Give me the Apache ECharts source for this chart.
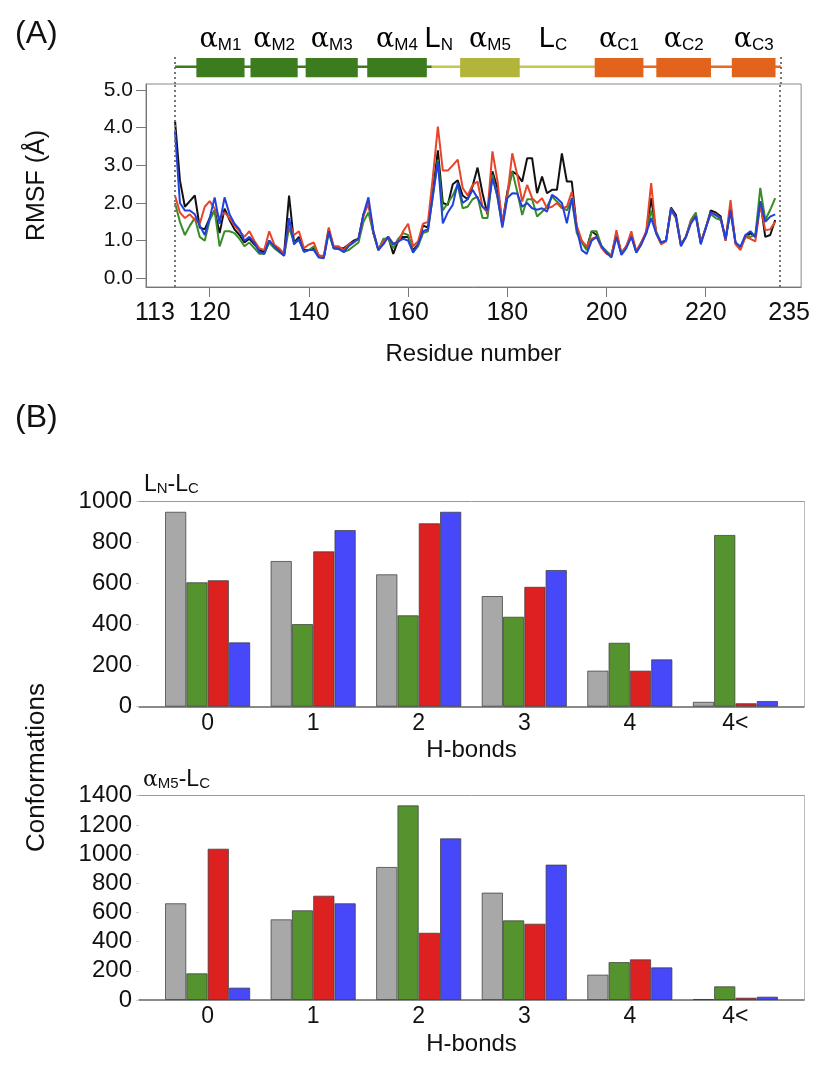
<!DOCTYPE html>
<html>
<head>
<meta charset="utf-8">
<script src="https://cdn.jsdelivr.net/npm/echarts@6/dist/echarts.min.js"></script>
<style>
  html, body { margin: 0; padding: 0; background: #fff; }
  #chart { width: 813px; height: 1065px; }
</style>
</head>
<body>
<div id="chart"></div>
<script>
// ---- panel A : RMSF per residue (113..234) ----
const residues = [];
for (let r = 113; r <= 234; r++) residues.push(r);

const rmsfBlack = [
  4.2, 2.6, 1.9, 2.05, 2.2, 1.35, 1.3, 1.6, 1.8, 1.2,
  1.85, 1.55, 1.3, 1.15, 0.95, 1.05, 0.9, 0.75, 0.7, 1.0,
  0.85, 0.75, 0.65, 2.2, 0.95, 1.1, 0.75, 0.75, 0.8, 0.6,
  0.55, 1.3, 0.8, 0.8, 0.8, 0.9, 1.0, 1.05, 1.7, 2.0,
  1.2, 0.75, 1.0, 1.1, 0.65, 1.0, 1.1, 1.1, 0.75, 0.9,
  1.4, 1.35, 2.3, 3.4, 2.0, 1.95, 2.5, 2.6, 2.2, 2.1,
  2.45, 2.94, 2.26, 1.7, 2.84, 2.4, 1.45, 2.3, 2.84, 2.75,
  2.57, 3.19, 3.19, 2.26, 2.7, 2.26, 2.35, 2.35, 3.32, 2.57,
  2.57, 1.35, 0.98, 0.8, 1.25, 1.15, 0.85, 0.7, 0.6, 1.2,
  0.65, 0.85, 1.15, 0.7, 0.95, 1.2, 2.13, 1.2, 0.93, 1.0,
  1.88, 1.68, 0.9, 1.1, 1.5, 1.68, 0.95, 1.33, 1.8, 1.75,
  1.65, 1.0, 1.9, 0.95, 0.82, 1.1, 1.2, 1.1, 2.05, 1.1,
  1.15, 1.55
];
const rmsfGreen = [
  2.0, 1.5, 1.15, 1.4, 1.6, 1.1, 1.0, 1.55, 1.8, 0.85,
  1.25, 1.25, 1.2, 1.05, 0.85, 0.95, 0.8, 0.65, 0.65, 0.95,
  0.8, 0.7, 0.6, 1.35, 0.95, 1.0, 0.72, 0.75, 0.85, 0.6,
  0.55, 1.2, 0.8, 0.78, 0.7, 0.75, 0.85, 0.95, 1.5, 1.75,
  1.2, 0.75, 1.05, 1.05, 0.8, 1.05, 1.2, 1.15, 0.7, 0.85,
  1.2, 1.25, 2.2, 3.15, 1.8, 2.0, 2.2, 2.48, 1.86, 1.9,
  2.1, 2.17, 1.6, 1.6, 2.75, 2.15, 1.4, 2.2, 2.84, 2.3,
  1.68, 2.1, 2.1, 1.64, 1.77, 1.9, 2.17, 2.04, 1.9, 1.8,
  2.1, 1.2, 0.95, 0.75, 1.25, 1.25, 0.85, 0.72, 0.6, 1.15,
  0.68, 0.85, 1.15, 0.7, 0.9, 1.2, 1.8, 1.25, 0.95, 1.0,
  1.8, 1.6, 0.9, 1.1, 1.55, 1.75, 0.95, 1.35, 1.7, 1.6,
  1.55, 1.1, 1.75, 0.95, 0.8, 1.15, 1.1, 1.15, 2.4, 1.55,
  1.82, 2.13
];
const rmsfRed = [
  2.2, 1.75, 1.6, 1.7, 1.55, 1.45, 1.9, 2.05, 1.85, 1.6,
  1.75, 1.6, 1.4, 1.25, 1.1, 1.25, 1.0, 0.8, 0.75, 1.25,
  0.9, 0.8, 0.65, 1.5, 1.15, 1.25, 0.8, 0.9, 0.95, 0.6,
  0.6, 1.35, 0.85, 0.85, 0.75, 0.9, 0.95, 1.05, 1.65, 2.0,
  1.25, 0.75, 0.98, 1.1, 0.93, 0.95, 1.25, 1.45, 0.85, 0.98,
  1.45, 1.5, 2.7, 4.03, 2.86, 2.86, 3.0, 3.15, 2.4, 2.2,
  2.48, 2.57, 1.9, 1.75, 3.37, 2.6, 1.45, 2.2, 3.32, 2.75,
  2.04, 2.48, 2.13, 2.0, 2.13, 1.86, 1.9, 2.0, 1.86, 1.9,
  2.3, 1.4, 1.0, 0.85, 1.05, 1.1, 0.8, 0.65, 0.6, 1.28,
  0.65, 0.85, 1.25, 0.72, 0.95, 1.25, 2.53, 1.2, 0.9, 0.98,
  1.85, 1.6, 0.88, 1.1, 1.5, 1.65, 0.95, 1.35, 1.75, 1.7,
  1.6, 1.0, 2.08, 0.9, 0.75, 1.1, 1.05, 0.98, 1.95, 1.28,
  1.3, 1.5
];
const rmsfBlue = [
  3.9, 2.0, 1.8, 1.8, 1.7, 1.4, 1.15, 1.6, 2.15, 1.45,
  2.15, 1.7, 1.45, 1.3, 1.0, 1.1, 0.95, 0.7, 0.65, 1.0,
  0.85, 0.72, 0.6, 1.6, 0.9, 1.05, 0.7, 0.75, 0.75, 0.55,
  0.53, 1.25, 0.8, 0.78, 0.7, 0.85, 0.95, 1.05, 1.7, 2.15,
  1.25, 0.75, 0.9, 1.1, 0.9, 0.98, 1.05, 1.0, 0.68, 0.9,
  1.25, 1.3, 2.2, 3.1, 1.46, 1.75, 1.95, 2.53, 2.0, 2.1,
  2.35, 2.13, 1.9, 1.8, 2.66, 2.2, 1.35, 2.13, 2.26, 2.25,
  1.9, 2.0, 1.86, 1.82, 1.86, 1.77, 2.22, 2.13, 2.0, 1.46,
  2.13, 1.3, 0.75, 0.65, 1.0, 1.1, 0.85, 0.68, 0.55, 1.1,
  0.62, 0.8, 1.1, 0.68, 0.9, 1.2, 1.6, 1.2, 0.95, 1.0,
  1.85, 1.62, 0.85, 1.1, 1.45, 1.65, 0.9, 1.33, 1.75, 1.68,
  1.6, 1.05, 1.8, 0.95, 0.84, 1.15, 1.25, 1.1, 2.05, 1.5,
  1.64, 1.7
];
const rmsfTicks = [0, 1, 2, 3, 4, 5];
const residueTicks = [120, 140, 160, 180, 200, 220];
const residueEnds = [113, 235];

// secondary structure along the sequence
const helixName = ['M1', 'M2', 'M3', 'M4', 'M5', 'C1', 'C2', 'C3'];
const helixStart = [117.3, 128.2, 139.3, 151.7, 170.4, 197.5, 209.9, 225.1];
const helixEnd = [127.0, 137.7, 149.8, 163.7, 182.4, 207.3, 220.9, 233.9];
const helixDomain = ['M', 'M', 'M', 'M', 'L', 'C', 'C', 'C'];
const backboneFrom = [113, 164.7, 197.5];
const backboneTo = [164.7, 197.5, 235];
const backboneDomain = ['M', 'L', 'C'];
const loopName = ['N', 'C'];
const loopAt = [166.1, 189.1];

// ---- panel B : H-bond counts ----
const hbondCats = ['0', '1', '2', '3', '4', '4<'];
const lnlcGray = [951, 711, 646, 540, 176, 24];
const lnlcGreen = [607, 403, 446, 439, 312, 838];
const lnlcRed = [617, 758, 895, 585, 176, 17];
const lnlcBlue = [314, 862, 951, 667, 231, 28];
const m5lcGray = [663, 553, 912, 736, 174, 7];
const m5lcGreen = [183, 615, 1334, 546, 260, 94];
const m5lcRed = [1037, 715, 461, 523, 279, 16];
const m5lcBlue = [85, 663, 1108, 928, 224, 23];

const FONT = 'Liberation Sans';
const boxColor = { M: '#3d7b1f', L: '#b2b53a', C: '#e2631c' };
const strandColor = { M: '#3d7b1f', L: '#c3c64f', C: '#e8691f' };
const lineColors = ['#111111', '#3a8c27', '#e8442c', '#2141dc'];
const barColors = ['#a8a8a8', '#55932f', '#dd2020', '#4848fb'];

const resMin = 107.16, resMax = 239.23;

let myChart = echarts.init(document.getElementById('chart'));

function pairs(xs, ys) {
  return xs.map((x, i) => [x, ys[i]]);
}

function greek(sub) {
  return '{a|α}{s|' + sub + '}';
}
const labelRich = {
  a: { fontFamily: 'DejaVu Serif', fontSize: 27, color: '#111', verticalAlign: 'bottom', lineHeight: 30 },
  s: { fontFamily: FONT, fontSize: 17, color: '#111', verticalAlign: 'bottom', lineHeight: 22 },
  l: { fontFamily: FONT, fontSize: 29, color: '#111', verticalAlign: 'bottom', lineHeight: 30 }
};
const subRich = {
  a: { fontFamily: 'DejaVu Serif', fontSize: 22, fontWeight: 'normal', color: '#111', verticalAlign: 'bottom', lineHeight: 26 },
  l: { fontFamily: FONT, fontSize: 23, fontWeight: 'normal', color: '#111', verticalAlign: 'bottom', lineHeight: 26 },
  s: { fontFamily: FONT, fontSize: 15, fontWeight: 'normal', color: '#111', verticalAlign: 'bottom', lineHeight: 20 }
};

function rmsfSeries(name, values, color) {
  return {
    name: name,
    type: 'line',
    xAxisIndex: 1,
    yAxisIndex: 1,
    data: pairs(residues, values),
    showSymbol: false,
    lineStyle: { color: color, width: 2 },
    z: 3
  };
}

function barSeries(name, values, color, axis) {
  return {
    name: name,
    type: 'bar',
    xAxisIndex: axis,
    yAxisIndex: axis,
    data: values.map((v, i) => [i, v]),
    barWidth: 21.3,
    barGap: '0%',
    itemStyle: { color: color, borderColor: 'rgba(60,60,60,0.75)', borderWidth: 1 }
  };
}

function barAxesX(grid) {
  return [
    {
      gridIndex: grid, type: 'value', min: -0.65, max: 5.65,
      name: 'H-bonds', nameLocation: 'middle', nameGap: 32,
      nameTextStyle: { fontFamily: FONT, fontSize: 24, color: '#111' },
      axisLine: { show: true, onZero: false, lineStyle: { color: '#666', width: 1.5 } },
      axisTick: { show: false },
      splitLine: { show: false },
      axisLabel: {
        customValues: [0, 1, 2, 3, 4, 5],
        formatter: v => hbondCats[v],
        fontFamily: FONT, fontSize: 23, color: '#111', margin: 5
      }
    },
    {
      gridIndex: grid, type: 'value', min: -0.65, max: 5.65, position: 'top',
      axisLine: { show: true, onZero: false, lineStyle: { color: '#999' } },
      axisTick: { show: false }, axisLabel: { show: false }, splitLine: { show: false }
    }
  ];
}

function barAxesY(grid, top) {
  return [
    {
      gridIndex: grid, type: 'value', min: 0, max: top, interval: 200,
      axisLine: { show: false, onZero: false },
      axisTick: { show: true, length: 3, lineStyle: { color: '#ccc' } },
      splitLine: { show: false },
      axisLabel: { formatter: v => String(v), fontFamily: FONT, fontSize: 24, color: '#111', margin: 7 }
    },
    {
      gridIndex: grid, type: 'value', min: 0, max: top, position: 'right',
      axisLine: { show: true, onZero: false, lineStyle: { color: '#bbb' } },
      axisTick: { show: false }, axisLabel: { show: false }, splitLine: { show: false }
    }
  ];
}

// 指定图表的配置项和数据
let option = {
  animation: false,
  backgroundColor: '#fff',
  title: [
    { text: '(A)', left: 10, top: 13, textStyle: { fontFamily: FONT, fontSize: 32, fontWeight: 'normal', color: '#111' } },
    { text: '(B)', left: 10, top: 397, textStyle: { fontFamily: FONT, fontSize: 32, fontWeight: 'normal', color: '#111' } },
    { text: '{l|L}{s|N}{l|-L}{s|C}', left: 139, top: 465, textStyle: { rich: subRich } },
    { text: '{a|α}{s|M5}{l|-L}{s|C}', left: 138, top: 760, textStyle: { rich: subRich } }
  ],
  graphic: [
    {
      type: 'text', left: 24, top: 683, rotation: Math.PI / 2,
      style: { text: 'Conformations', fontFamily: FONT, fontSize: 26, fill: '#111' }
    }
  ],
  grid: [
    { left: 146, top: 32, width: 656, height: 52 },
    { left: 146, top: 84, width: 656, height: 203, show: true, borderColor: '#888', borderWidth: 1 },
    { left: 139, top: 501.7, width: 665, height: 205 },
    { left: 139, top: 795.7, width: 665, height: 204.3 }
  ],
  xAxis: [
    { gridIndex: 0, type: 'value', min: resMin, max: resMax, show: false },
    {
      gridIndex: 1, type: 'value', min: resMin, max: resMax,
      name: 'Residue number', nameLocation: 'middle', nameGap: 55,
      nameTextStyle: { fontFamily: FONT, fontSize: 24, color: '#111' },
      axisLine: { show: true, onZero: false, lineStyle: { color: '#777' } },
      axisTick: { show: true, length: 10, customValues: residueTicks, lineStyle: { color: '#777' } },
      splitLine: { show: false },
      axisLabel: {
        customValues: residueEnds.concat(residueTicks),
        formatter: v => {
          if (v === residueEnds[0]) return '{left|' + v + '}';
          if (v === residueEnds[1]) return '{right|' + v + '}';
          return '{mid|' + v + '}';
        },
        rich: {
          left: { fontFamily: FONT, fontSize: 25, color: '#111', padding: [0, 40, 0, 0] },
          right: { fontFamily: FONT, fontSize: 25, color: '#111', padding: [0, 0, 0, 18] },
          mid: { fontFamily: FONT, fontSize: 25, color: '#111' }
        },
        margin: 14
      }
    },
    ...barAxesX(2),
    ...barAxesX(3)
  ],
  yAxis: [
    { gridIndex: 0, type: 'value', min: 0, max: 1, show: false },
    {
      gridIndex: 1, type: 'value', min: -0.23, max: 5.16,
      name: 'RMSF (Å)', nameLocation: 'middle', nameGap: 96, nameRotate: 90,
      nameTextStyle: { fontFamily: FONT, fontSize: 25, color: '#111' },
      axisLine: { show: true, onZero: false, lineStyle: { color: '#777' } },
      axisTick: { show: true, length: 10, customValues: rmsfTicks, lineStyle: { color: '#777' } },
      splitLine: { show: false },
      axisLabel: {
        customValues: rmsfTicks,
        formatter: v => v.toFixed(1),
        fontFamily: FONT, fontSize: 21, color: '#111', margin: 13
      }
    },
    ...barAxesY(2, 1000),
    ...barAxesY(3, 1400)
  ],
  series: [
    // backbone strand
    {
      type: 'custom', xAxisIndex: 0, yAxisIndex: 0,
      data: backboneFrom.map((f, i) => [f, backboneTo[i]]),
      renderItem: (params, api) => {
        const a = api.coord([api.value(0), 0.333]);
        const b = api.coord([api.value(1), 0.333]);
        return {
          type: 'line',
          shape: { x1: a[0], y1: a[1], x2: b[0], y2: b[1] },
          style: { stroke: strandColor[backboneDomain[params.dataIndex]], lineWidth: 2.5 }
        };
      }
    },
    // dotted ends of the construct
    {
      type: 'custom', xAxisIndex: 0, yAxisIndex: 0,
      data: residueEnds.map(r => [r]),
      renderItem: (params, api) => {
        const a = api.coord([api.value(0), 0.52]);
        const b = api.coord([api.value(0), 0]);
        return {
          type: 'line',
          shape: { x1: a[0], y1: a[1], x2: b[0], y2: b[1] },
          style: { stroke: '#777', lineWidth: 2, lineDash: [2, 3] }
        };
      }
    },
    // helices with labels
    {
      type: 'custom', xAxisIndex: 0, yAxisIndex: 0,
      data: helixStart.map((s, i) => [s, helixEnd[i]]),
      renderItem: (params, api) => {
        const i = params.dataIndex;
        const a = api.coord([api.value(0), 0.5]);
        const b = api.coord([api.value(1), 0.13]);
        const c = api.coord([(api.value(0) + api.value(1)) / 2, 0.58]);
        return {
          type: 'group',
          children: [
            {
              type: 'rect',
              shape: { x: a[0], y: a[1], width: b[0] - a[0], height: b[1] - a[1] },
              style: { fill: boxColor[helixDomain[i]] }
            },
            {
              type: 'text',
              style: { text: greek(helixName[i]), rich: labelRich, x: c[0], y: c[1], align: 'center', verticalAlign: 'bottom' }
            }
          ]
        };
      }
    },
    // loop labels
    {
      type: 'custom', xAxisIndex: 0, yAxisIndex: 0,
      data: loopAt.map(r => [r]),
      renderItem: (params, api) => {
        const c = api.coord([api.value(0), 0.58]);
        return {
          type: 'text',
          style: { text: '{l|L}{s|' + loopName[params.dataIndex] + '}', rich: labelRich, x: c[0], y: c[1], align: 'center', verticalAlign: 'bottom' }
        };
      }
    },
    rmsfSeries('black', rmsfBlack, lineColors[0]),
    rmsfSeries('green', rmsfGreen, lineColors[1]),
    rmsfSeries('red', rmsfRed, lineColors[2]),
    {
      ...rmsfSeries('blue', rmsfBlue, lineColors[3]),
      markLine: {
        silent: true, symbol: 'none', label: { show: false },
        lineStyle: { color: '#777', type: [2, 3], width: 2 },
        data: residueEnds.map(r => ({ xAxis: r }))
      }
    },
    barSeries('gray', lnlcGray, barColors[0], 2),
    barSeries('green', lnlcGreen, barColors[1], 2),
    barSeries('red', lnlcRed, barColors[2], 2),
    barSeries('blue', lnlcBlue, barColors[3], 2),
    barSeries('gray', m5lcGray, barColors[0], 4),
    barSeries('green', m5lcGreen, barColors[1], 4),
    barSeries('red', m5lcRed, barColors[2], 4),
    barSeries('blue', m5lcBlue, barColors[3], 4)
  ]
};

// 使用刚指定的配置项和数据显示图表。
myChart.setOption(option);
</script>
</body>
</html>
